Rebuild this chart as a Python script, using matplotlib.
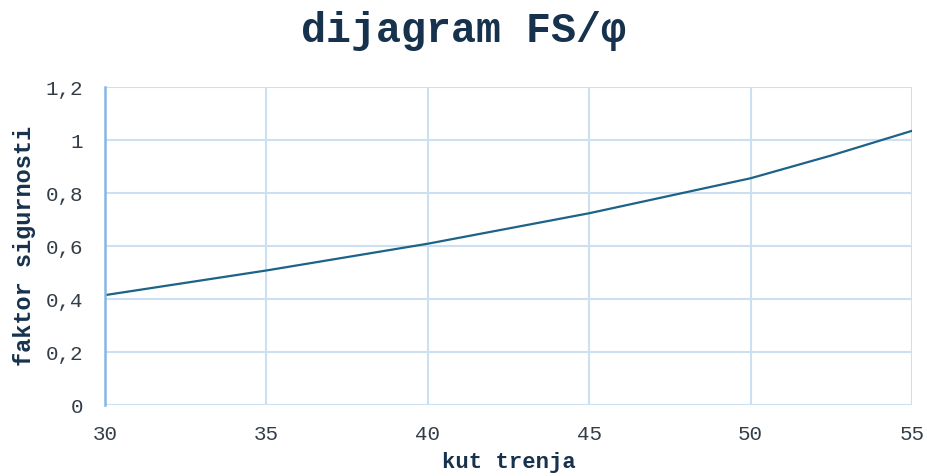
import matplotlib
matplotlib.use("Agg")
import matplotlib.pyplot as plt
from matplotlib.ticker import FuncFormatter, MultipleLocator

# kut trenja [deg] and faktor sigurnosti
phi = [30, 35, 40, 45, 50, 52.5, 55]
fs = [0.415, 0.508, 0.609, 0.724, 0.856, 0.942, 1.035]

title = "dijagram FS/φ"
xlabel = "kut trenja"
ylabel = "faktor sigurnosti"

font = ["Liberation Mono", "DejaVu Sans Mono"]
navy = "#17324d"
grid_col = "#cde0f2"

fig = plt.figure(figsize=(9.27, 4.76), dpi=100)
ax = fig.add_axes([0.1133, 0.149, 0.8705, 0.668])

ax.plot(phi, fs, color="#1c6387", linewidth=1.6)

ax.set_xlim(30, 55)
ax.set_ylim(0, 1.2)
ax.xaxis.set_major_locator(MultipleLocator(5))
ax.yaxis.set_major_locator(MultipleLocator(0.2))


def comma(v, pos):
    s = f"{v:.1f}".rstrip("0").rstrip(".")
    return s.replace(".", ",")


ax.yaxis.set_major_formatter(FuncFormatter(comma))
ax.grid(True, color=grid_col, linewidth=1.5)
ax.set_axisbelow(True)
for side in ["top", "right", "bottom"]:
    ax.spines[side].set_visible(False)
ax.spines["left"].set_color("#86b6e2")
ax.spines["left"].set_linewidth(1.8)
ax.spines["left"].set_zorder(3)

ax.tick_params(length=0, labelsize=15, labelcolor="#333d47")
ax.tick_params(axis="y", pad=16)
ax.tick_params(axis="x", pad=14)
for lab in ax.get_xticklabels() + ax.get_yticklabels():
    lab.set_family(font)

ax.set_xlabel(xlabel, family=font, fontsize=16, fontweight="bold",
              color=navy, labelpad=6)
ax.set_ylabel(ylabel, family=font, fontsize=17, fontweight="bold",
              color=navy, labelpad=7)
fig.text(0.5, 0.935, title, ha="center", va="center", family=font,
         fontsize=30, fontweight="bold", color=navy)

fig.savefig("out.png", dpi=100)
